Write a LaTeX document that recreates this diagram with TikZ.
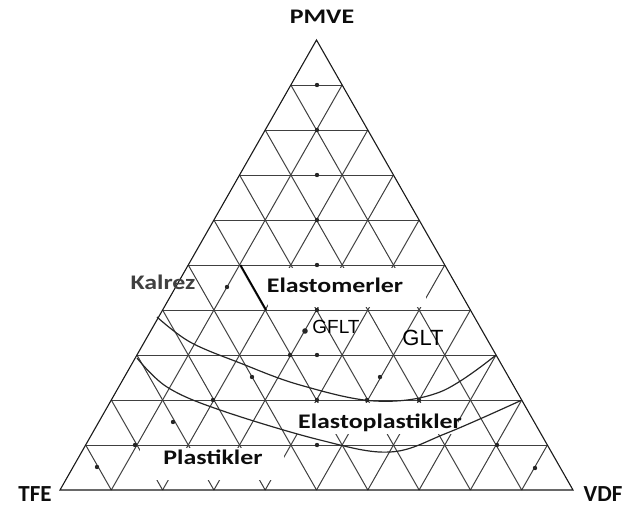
\documentclass[tikz,border=0pt]{standalone}
\usepackage{fontspec}
\setmainfont{Carlito}
\newfontfamily\arialfont{Liberation Sans}
\usetikzlibrary{calc}
\tikzset{
  gridline/.style={black!75, line width=1pt},
  rim/.style={black!90, line width=1.1pt},
  curveline/.style={black!85, line width=1.2pt},
  lbl/.style={font=\bfseries\fontsize{20.7}{24}\selectfont, inner sep=0pt, text=black!95},
  corner/.style={font=\bfseries\fontsize{23}{26}\selectfont, inner sep=0pt, text=black!95},
  datadot/.style={fill=black!85},
}
\newcommand{\wide}[1]{\scalebox{1.25}[1]{#1}}
\begin{document}
\begin{tikzpicture}[x=1pt,y=-1pt]
  \useasboundingbox (0,0) rectangle (631,508);
  \coordinate (tfe) at (60,490);
  \coordinate (vdf) at (573,490);
  \coordinate (pmve) at (316.5,40);
  \foreach \i in {1,...,9}{
    \draw[gridline] ($(tfe)!\i/10!(pmve)$) -- ($(vdf)!\i/10!(pmve)$);
    \draw[gridline] ($(tfe)!\i/10!(vdf)$) -- ($(pmve)!\i/10!(vdf)$);
    \draw[gridline] ($(vdf)!\i/10!(tfe)$) -- ($(pmve)!\i/10!(tfe)$);
  }
  \draw[rim] (tfe) -- (vdf) -- (pmve) -- cycle;
  \draw[line width=1.6pt] (240.5,265) -- (266.2,310);
  \fill[white] (268,268) rectangle (426,307);
  \fill[white] (296,403) rectangle (458,434);
  \fill[white] (140,448) rectangle (284,480);
  \foreach \x/\y in {317/85,317/130,317/175,317/220,317/265,317/310,227/287,
      290/355,317/355,252/377,380/377,213/400,317/400,367/400,419/400,
      135/445,317/445,497/445,97/467,173/422,535/468}
    \fill[datadot] (\x,\y) circle (2.2);
  \fill[datadot] (305,331) circle (2.8);
  \draw[curveline] plot[smooth, tension=0.6] coordinates
    {(157,317) (190,342) (240,363) (300,385) (375,401) (440,392) (496,355)};
  \draw[curveline] plot[smooth, tension=0.6] coordinates
    {(137,358) (167,387) (220,410) (320,440) (390,452) (447,433) (522,400)};
  \node[lbl] (pmvelbl) at (322,17) {\wide{PMVE}};
  \node[corner] (tfelbl) at (35,494) {TFE};
  \node[corner] (vdflbl) at (603,494) {VDF};
  \node[lbl, text=black!75] (kalrez) at (163,282) {\wide{Kalrez}};
  \node[lbl] (elastomer) at (335,285) {\wide{Elastomerler}};
  \node[inner sep=0pt, font=\arialfont\fontsize{19}{22}\selectfont] (gflt) at (336,327) {GFLT};
  \node[inner sep=0pt, font=\arialfont\fontsize{22}{26}\selectfont] (glt) at (423,338) {GLT};
  \node[lbl] (elastoplastic) at (380,423) {\wide{Elastoplastikler}};
  \node[lbl] (plastic) at (213,457) {\wide{Plastikler}};
\end{tikzpicture}
\end{document}
